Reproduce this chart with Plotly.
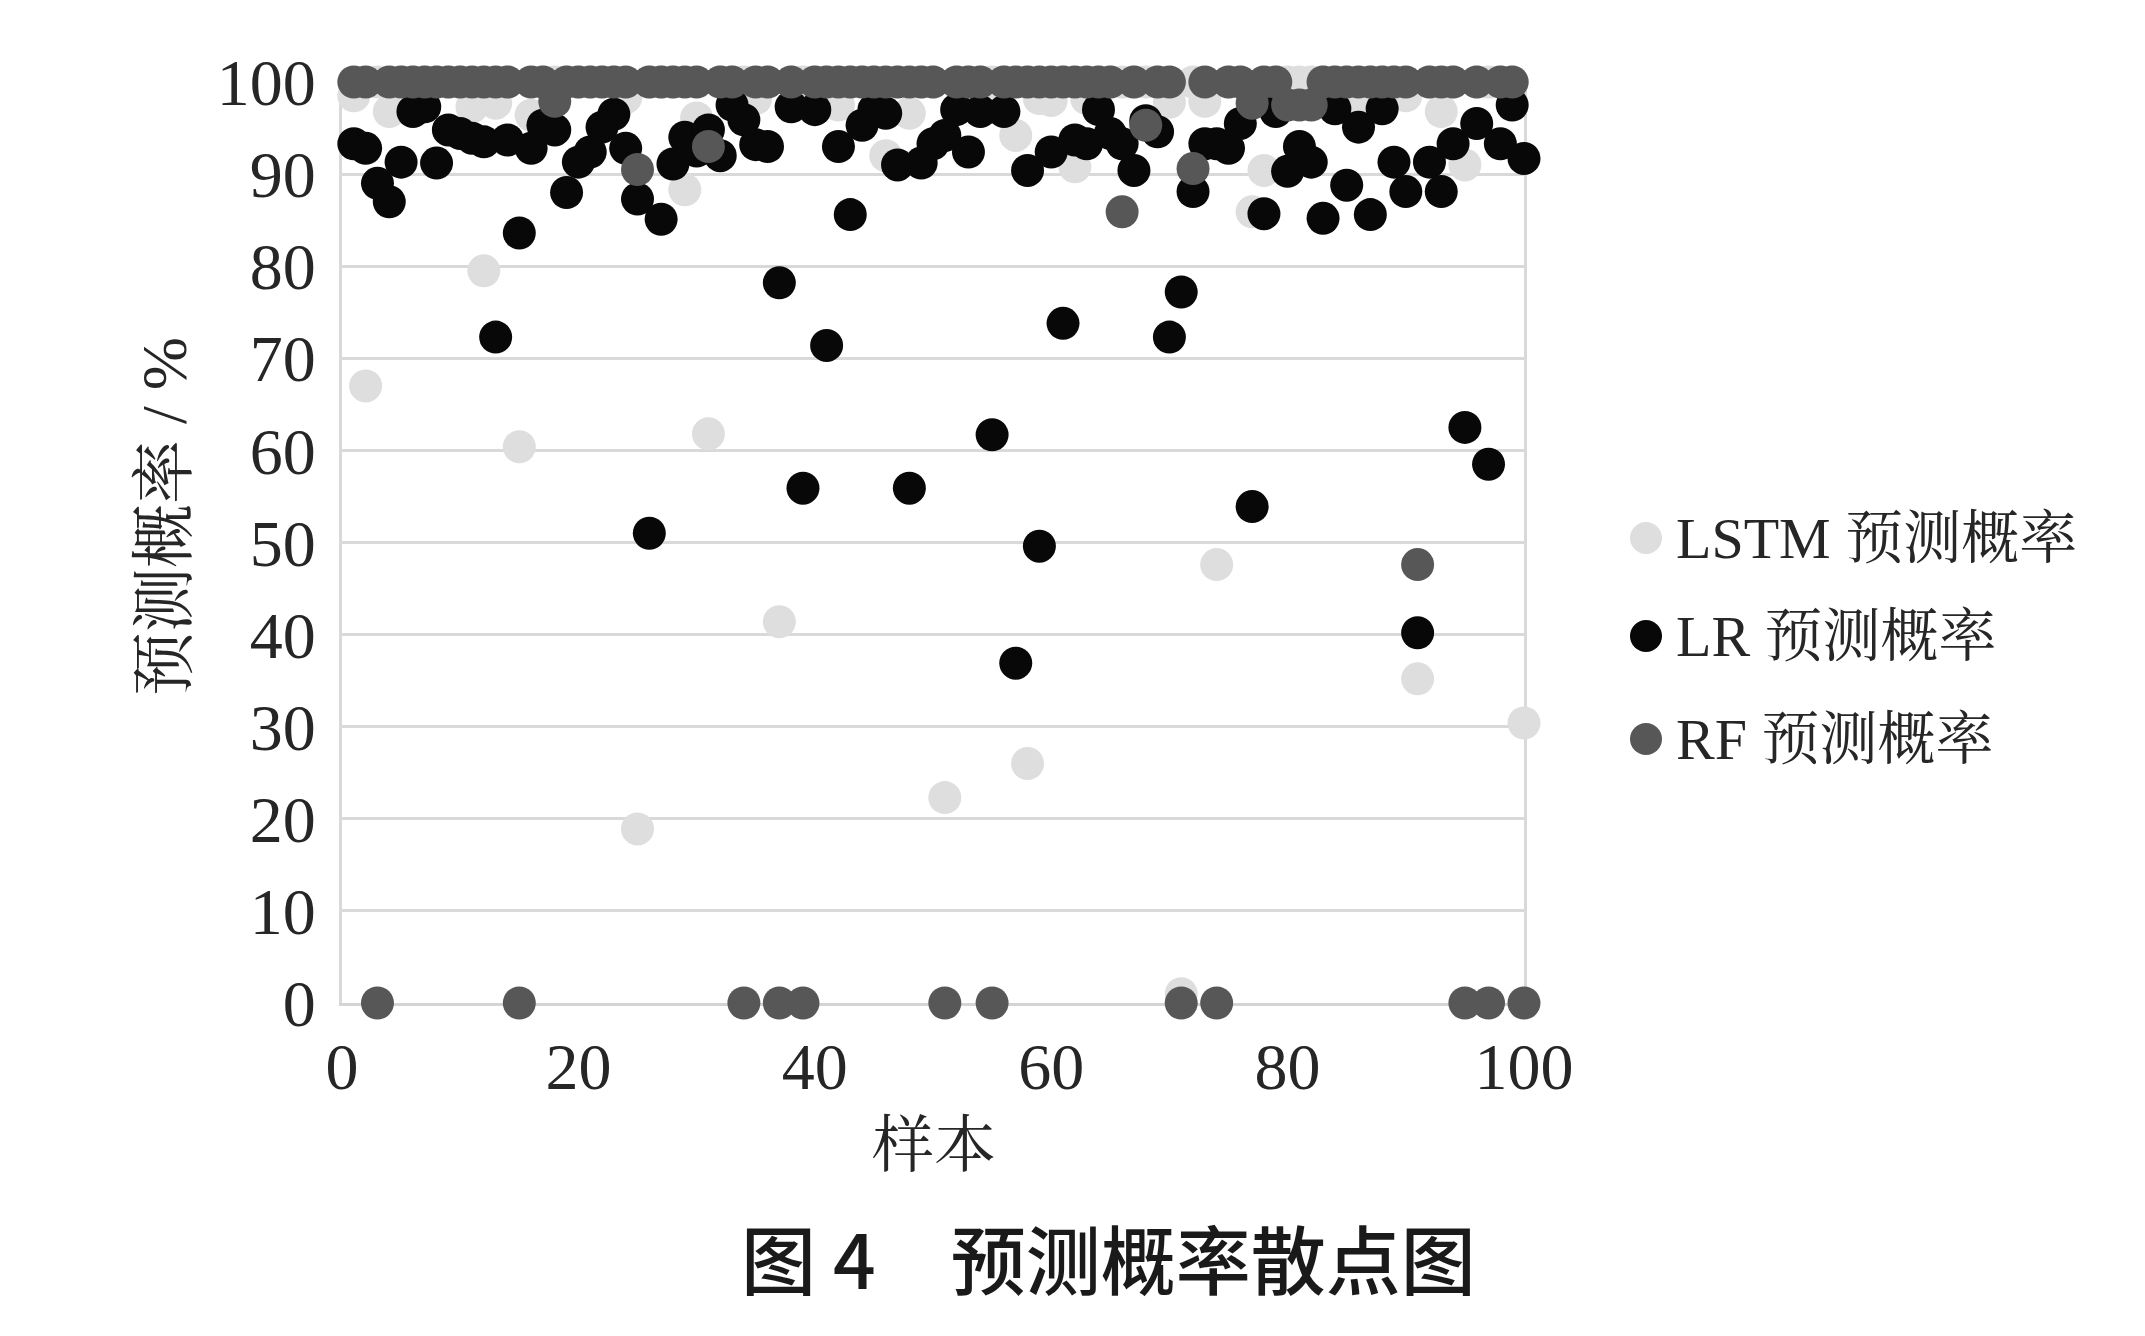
import plotly.graph_objects as go

# ---------------- data ----------------
samples = list(range(1, 101))

lstm_prob = [
    98.5, 67.0, 100, 96.8, 100, 100, 100, 100, 100, 100,
    97.3, 79.5, 97.7, 100, 60.4, 96.4, 100, 100, 100, 100,
    100, 100, 100, 98.3, 18.9, 100, 100, 100, 88.3, 96.1,
    61.8, 100, 100, 100, 98.2, 100, 41.4, 100, 100, 100,
    100, 97.5, 100, 100, 100, 92.0, 100, 96.6, 100, 100,
    22.3, 100, 100, 100, 100, 100, 94.2, 26.0, 98.2, 98.0,
    100, 90.8, 98.2, 100, 100, 100, 100, 100, 100, 97.8,
    1.0, 100, 97.9, 47.6, 100, 100, 85.9, 90.4, 100, 100,
    100, 100, 100, 100, 100, 98.0, 100, 100, 100, 98.5,
    35.2, 100, 96.8, 100, 91.0, 100, 100, 100, 100, 30.4,
]

lr_prob = [
    93.3, 92.8, 89.0, 87.0, 91.3, 96.8, 97.3, 91.2, 94.8, 94.4,
    93.9, 93.5, 72.3, 93.7, 83.6, 92.8, 95.3, 94.8, 88.0, 91.3,
    92.4, 95.1, 96.5, 92.8, 87.3, 51.0, 85.1, 91.1, 94.0, 92.5,
    94.8, 92.0, 97.5, 95.9, 93.2, 93.0, 78.2, 97.3, 55.9, 97.0,
    71.4, 93.0, 85.6, 95.3, 97.0, 96.6, 91.0, 55.9, 91.2, 93.3,
    94.2, 97.0, 92.4, 96.8, 61.7, 96.8, 36.9, 90.4, 49.6, 92.4,
    73.8, 93.7, 93.3, 97.0, 94.4, 93.3, 90.4, 95.8, 94.6, 72.3,
    77.2, 88.1, 93.3, 93.3, 92.8, 95.5, 53.9, 85.7, 96.8, 90.3,
    93.0, 91.3, 85.2, 97.1, 88.8, 95.1, 85.6, 97.1, 91.3, 88.1,
    40.2, 91.3, 88.1, 93.3, 62.5, 95.5, 58.5, 93.3, 97.5, 91.7,
]

rf_prob = [
    100, 100, 0, 100, 100, 100, 100, 100, 100, 100,
    100, 100, 100, 100, 0, 100, 100, 97.9, 100, 100,
    100, 100, 100, 100, 90.5, 100, 100, 100, 100, 100,
    93.0, 100, 100, 0, 100, 100, 0, 100, 0, 100,
    100, 100, 100, 100, 100, 100, 100, 100, 100, 100,
    0, 100, 100, 100, 0, 100, 100, 100, 100, 100,
    100, 100, 100, 100, 100, 85.9, 100, 95.3, 100, 100,
    0, 90.6, 100, 0, 100, 100, 97.7, 100, 100, 97.5,
    97.5, 97.5, 100, 100, 100, 100, 100, 100, 100, 100,
    47.6, 100, 100, 100, 0, 100, 0, 100, 100, 0,
]

series_names = ["LSTM 预测概率", "LR 预测概率", "RF 预测概率"]
series_colors = ["#dedede", "#080808", "#575757"]
y_ticks = list(range(0, 101, 10))
x_ticks = [0, 20, 40, 60, 80, 100]

# ---------------- figure ----------------
SERIF = "Liberation Serif, Times New Roman, Noto Serif CJK SC, Noto Sans CJK SC, serif"
CJK = "Noto Sans CJK SC, sans-serif"
MSIZE = 33

fig = go.Figure()
for name, vals, col in zip(series_names, [lstm_prob, lr_prob, rf_prob], series_colors):
    fig.add_trace(go.Scatter(
        x=samples, y=vals, mode="markers", name=name,
        marker=dict(size=MSIZE, color=col, line=dict(width=0)),
        cliponaxis=False, showlegend=False,
    ))

# the page body has an 8px default margin, so compensate
OFF = 8
W, H = 2145 - OFF, 1336 - OFF
PLOT_L, PLOT_R, PLOT_T, PLOT_B = 342 - OFF, 1524 - OFF, 82 - OFF, 1003 - OFF
L, R, T, B = PLOT_L, W - PLOT_R, PLOT_T, H - PLOT_B
PW, PH = PLOT_R - PLOT_L, PLOT_B - PLOT_T

fig.update_layout(
    width=W, height=H,
    margin=dict(l=L, r=R, t=T, b=B, pad=0),
    paper_bgcolor="white", plot_bgcolor="white",
    showlegend=False,
    font=dict(family=SERIF, color="#262626"),
)
fig.update_xaxes(
    range=[0, 100], tickvals=x_ticks, ticktext=[str(v) for v in x_ticks],
    showgrid=False, zeroline=False,
    showline=True, linecolor="#d4d4d4", linewidth=3, mirror=True,
    ticks="", tickfont=dict(family=SERIF, size=66, color="#262626"),
    ticklabelstandoff=4, layer="below traces",
)
fig.update_yaxes(
    range=[0, 100], tickvals=y_ticks, ticktext=[str(v) for v in y_ticks],
    showgrid=True, gridcolor="#d9d9d9", gridwidth=3, zeroline=False,
    showline=True, linecolor="#d9d9d9", linewidth=3, mirror=True,
    ticks="", tickfont=dict(family=SERIF, size=66, color="#262626"),
    ticklabelstandoff=10, layer="below traces",
)

def px_x(p):
    # p: x position in the reference page (pixels)
    return (p - OFF - PLOT_L) / PW

def px_y(p):
    return (PLOT_B - (p - OFF)) / PH

annotations = [
    dict(text="预测概率 / %", x=px_x(164), y=px_y(517), xref="paper", yref="paper",
         textangle=-90, showarrow=False, xanchor="center", yanchor="middle",
         font=dict(family=SERIF, size=64, color="#262626")),
    dict(text="样本", x=px_x(934), y=px_y(1146), xref="paper", yref="paper",
         showarrow=False, xanchor="center", yanchor="middle",
         font=dict(family=SERIF, size=62, color="#262626")),
    dict(text="图 4　预测概率散点图", x=px_x(1108), y=px_y(1256), xref="paper", yref="paper",
         showarrow=False, xanchor="center", yanchor="middle",
         font=dict(family=CJK, size=75, color="#1a1a1a", weight=500)),
]

# custom legend (large markers as in the original)
legend_rows = [538, 636, 739]
shapes = []
for name, col, ry in zip(series_names, series_colors, legend_rows):
    shapes.append(dict(
        type="circle", xref="paper", yref="paper",
        xsizemode="pixel", ysizemode="pixel",
        xanchor=px_x(1646), yanchor=px_y(ry),
        x0=-16, x1=16, y0=-16, y1=16,
        fillcolor=col, line=dict(width=0),
    ))
    annotations.append(dict(
        text=name, x=px_x(1674), y=px_y(ry), xref="paper", yref="paper",
        showarrow=False, xanchor="left", yanchor="middle",
        font=dict(family=SERIF, size=58, color="#262626"),
    ))

fig.update_layout(annotations=annotations, shapes=shapes)

fig.write_html("out.html")
